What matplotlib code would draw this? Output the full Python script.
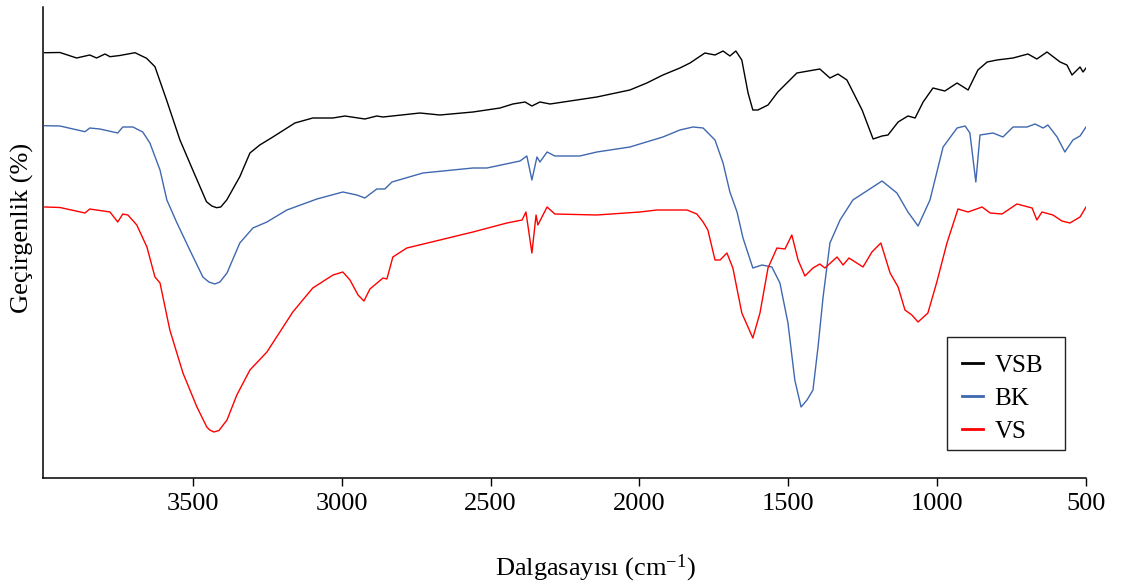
import matplotlib
matplotlib.use("Agg")
import matplotlib.pyplot as plt
from matplotlib.lines import Line2D
from matplotlib.patches import Rectangle

plt.rcParams['font.family'] = ['Liberation Serif', 'DejaVu Serif']
plt.rcParams['mathtext.fontset'] = 'custom'
plt.rcParams['mathtext.rm'] = 'Liberation Serif'
plt.rcParams['mathtext.it'] = 'Liberation Serif:italic'

# ---- data (wavenumber cm-1, transmittance in arbitrary offset units) ----
vsb_wn = [3997, 3946, 3890, 3846, 3823, 3795, 3778, 3745, 3694, 3655, 3627, 3588,
          3543, 3500, 3454, 3436, 3420, 3406, 3386, 3342, 3308, 3275, 3231, 3157, 3097, 3029,
          2989, 2922, 2882, 2861, 2737, 2670, 2559, 2468, 2425, 2384, 2361, 2334,
          2300, 2143, 2032, 1975, 1921, 1864, 1830, 1780, 1746, 1719, 1696, 1676,
          1656, 1635, 1619, 1602, 1568, 1535, 1471, 1394, 1360, 1333, 1303, 1252, 1215,
          1185, 1165, 1131, 1098, 1074, 1047, 1014, 974, 933, 896, 863, 832, 799,
          745, 695, 665, 631, 587, 564, 547, 530, 520, 510, 500]
vsb_t = [425.3, 425.5, 420, 423, 420, 424, 421.3, 422.5, 425.3, 419.7, 411.3, 378,
         338, 308, 276.3, 272, 270.3, 271, 278, 301.3, 325, 333, 341, 355, 360, 360,
         362, 359, 362, 361, 365, 363, 366, 370, 374, 376, 372, 376,
         374, 381, 388, 395, 403, 410, 415, 425, 423, 427, 422, 427,
         418, 385, 368, 368, 373, 386, 405, 409, 400, 404, 398, 368, 339,
         342, 343, 356, 362, 360, 376, 390, 387, 395, 388, 408, 416, 418,
         420, 424, 419, 426, 416, 413, 403, 408, 411, 406, 410]

bk_wn = [3997, 3946, 3862, 3846, 3812, 3752, 3735, 3701, 3668, 3644, 3610, 3587,
         3553, 3510, 3466, 3446, 3426, 3409, 3385, 3342, 3298, 3251, 3184, 3083, 2996, 2949,
         2922, 2882, 2855, 2831, 2727, 2559, 2512, 2401, 2378, 2361, 2344, 2334,
         2310, 2284, 2200, 2143, 2032, 1921, 1864, 1820, 1786, 1746, 1719, 1696,
         1672, 1652, 1619, 1588, 1555, 1528, 1501, 1478, 1457, 1437, 1417, 1400,
         1383, 1360, 1326, 1283, 1185, 1135, 1098, 1064, 1024, 980, 933, 906,
         890, 870, 856, 812, 779, 745, 698, 671, 644, 628, 597, 571, 544, 520, 500]
bk_t = [352.3, 352, 346.3, 350, 349, 345, 351, 351, 346, 335, 308, 278,
        255, 228, 201, 196, 194, 196, 205, 235, 250, 256, 268, 279, 286, 283,
        280, 289, 289, 296, 305, 310, 310, 317, 322, 298, 321, 316,
        326, 322, 322, 326, 331, 341, 348, 351, 350, 338, 315, 286,
        266, 240, 210, 213, 211, 195, 155, 98, 71, 78, 88, 131,
        181, 235, 258, 278, 297, 285, 266, 252, 278, 331, 350, 352,
        345, 296, 343, 345, 341, 351, 351, 354, 350, 353, 341, 326, 338, 342, 351]

vs_wn = [3997, 3946, 3862, 3846, 3778, 3752, 3735, 3718, 3688, 3654, 3627, 3610,
         3577, 3533, 3486, 3453, 3443, 3429, 3412, 3385, 3352, 3308, 3251, 3164, 3097, 3029,
         2996, 2972, 2945, 2925, 2905, 2861, 2848, 2828, 2781, 2670, 2559, 2445,
         2394, 2381, 2361, 2347, 2341, 2310, 2284, 2143, 1998, 1941, 1840, 1807,
         1786, 1770, 1746, 1729, 1706, 1686, 1656, 1619, 1595, 1568, 1538, 1511,
         1488, 1467, 1444, 1417, 1394, 1377, 1336, 1316, 1296, 1249, 1219, 1189,
         1158, 1131, 1108, 1085, 1064, 1031, 1001, 967, 930, 896, 849, 822, 782,
         732, 681, 665, 648, 611, 581, 554, 520, 500]
vs_t = [271, 270.5, 265, 269, 266, 256, 264, 263, 253, 231, 201, 195,
        148, 105, 71, 51, 48, 46, 47.5, 58, 83, 108, 126, 166, 190, 203,
        206, 198, 183, 177, 189, 200, 199, 221, 230, 238, 246, 255,
        258, 266, 225, 263, 253, 271, 264, 263, 266, 268, 268, 264,
        256, 248, 218, 218, 225, 210, 165, 140, 165, 210, 230, 229,
        243, 218, 202, 210, 214, 210, 221, 213, 220, 211, 226, 235,
        205, 191, 168, 163, 156, 165, 196, 235, 269, 266, 271, 265, 264,
        274, 270, 258, 266, 263, 257, 255, 261, 271]

series_labels = ['VSB', 'BK', 'VS']
series_colors = ['#000000', '#3F68B0', '#FF0000']
xticks = [3500, 3000, 2500, 2000, 1500, 1000, 500]

W, H = 1127, 587
fig = plt.figure(figsize=(W / 100, H / 100), dpi=100)
ax = fig.add_axes([43 / W, 1 - 478 / H, (1086 - 43) / W, (478 - 7) / H])

for wn, t, c in zip([vsb_wn, bk_wn, vs_wn], [vsb_t, bk_t, vs_t], series_colors):
    ax.plot(wn, t, color=c, lw=1.0)

ax.set_xlim(4003, 500)
ax.set_ylim(0, 471)
ax.set_xticks(xticks)
ax.set_xticklabels([str(v) for v in xticks])
ax.set_yticks([])
for s in ['top', 'right']:
    ax.spines[s].set_visible(False)
for s in ['left', 'bottom']:
    ax.spines[s].set_linewidth(1.1)
ax.tick_params(axis='x', direction='out', length=6, width=1.0, pad=5,
               labelsize=19, colors='black')

fig.text(595 / W, 1 - 568 / H, 'Dalgasayısı (cm$^{\\mathregular{-1}}$)',
         ha='center', va='center', fontsize=19)
fig.text(22 / W, 1 - 228 / H, 'Geçirgenlik (%)', rotation=90,
         ha='center', va='center', fontsize=19)

# legend
handles = [Line2D([], [], color=c, lw=2.0) for c in series_colors]
leg = ax.legend(handles, series_labels, loc='center left',
                bbox_to_anchor=((962 - 43) / 1043, (478 - 398.5) / 471),
                frameon=False, fontsize=18, handlelength=0.85,
                handletextpad=0.45, labelspacing=0.42, borderpad=0,
                borderaxespad=0)
ax.add_patch(Rectangle(((947 - 43) / 1043, (478 - 450) / 471),
                       (1065 - 947) / 1043, (450 - 337) / 471,
                       transform=ax.transAxes, fill=False, edgecolor='#222222',
                       lw=1.0, clip_on=False))

fig.savefig('out.png', dpi=100)
